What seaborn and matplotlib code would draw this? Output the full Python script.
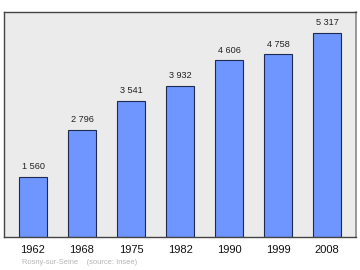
import matplotlib
matplotlib.use("Agg")
import matplotlib.pyplot as plt
import seaborn as sns
import pandas as pd

years = ["1962", "1968", "1975", "1982", "1990", "1999", "2008"]
population = [1560, 2796, 3541, 3932, 4606, 4758, 5317]
value_labels = ["1 560", "2 796", "3 541", "3 932", "4 606", "4 758", "5 317"]
source_text = "Rosny-sur-Seine    (source: Insee)"

sns.set_style("white")
plt.rcParams["font.family"] = ["Liberation Sans", "DejaVu Sans"]

df = pd.DataFrame({"year": years, "pop": population})

fig = plt.figure(figsize=(3.6, 2.7), dpi=100)
ax = fig.add_axes([4 / 360, 33 / 270, 352 / 360, 225 / 270])
ax.set_facecolor("#ebebeb")

sns.barplot(data=df, x="year", y="pop", color="#6f96ff", saturation=1,
            width=0.57, edgecolor="#1f2a50", linewidth=0.8, ax=ax)

ax.set_xlim(-0.592, 6.59)
ax.set_ylim(0, 5864)
for i, (v, lab) in enumerate(zip(population, value_labels)):
    ax.text(i, v + 150, lab, ha="center", va="bottom", fontsize=6.6, color="#222222")

ax.set_xlabel("")
ax.set_ylabel("")
ax.set_yticks([])
ax.tick_params(axis="x", length=0, labelsize=8, pad=6, colors="#111111")
for side in ["left", "bottom", "top"]:
    ax.spines[side].set_color("#444444")
    ax.spines[side].set_linewidth(1.0)
ax.spines["right"].set_color("#888888")
ax.spines["right"].set_linewidth(1.2)

fig.text(22 / 360, 1 - 263 / 270, source_text, fontsize=5.4, color="#b5b5b5",
         ha="left", va="center")

fig.savefig("out.png", dpi=100)
